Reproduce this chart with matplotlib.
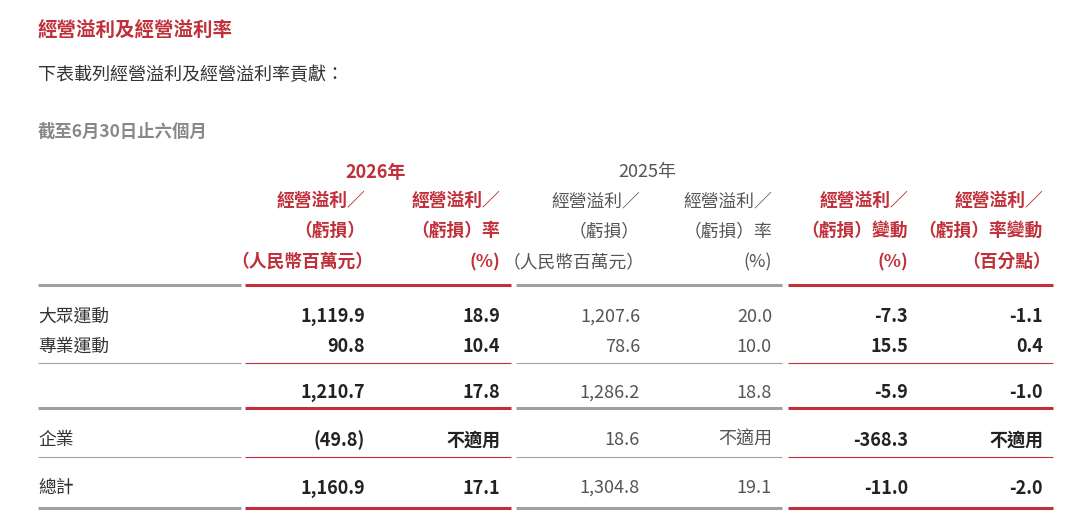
import matplotlib
matplotlib.use("Agg")
import matplotlib.pyplot as plt

plt.rcParams['font.family'] = ['Noto Sans CJK TC', 'DejaVu Sans']

segments = ["大眾運動", "專業運動", "", "企業", "總計"]
op_2026 = ["1,119.9", "90.8", "1,210.7", "(49.8)", "1,160.9"]
margin_2026 = ["18.9", "10.4", "17.8", "不適用", "17.1"]
op_2025 = ["1,207.6", "78.6", "1,286.2", "18.6", "1,304.8"]
margin_2025 = ["20.0", "10.0", "18.8", "不適用", "19.1"]
op_change = ["-7.3", "15.5", "-5.9", "-368.3", "-11.0"]
margin_change = ["-1.1", "0.4", "-1.0", "不適用", "-2.0"]

headers = [
    ["經營溢利／", "（虧損）", "（人民幣百萬元）"],
    ["經營溢利／", "（虧損）率", "(%)"],
    ["經營溢利／", "（虧損）", "（人民幣百萬元）"],
    ["經營溢利／", "（虧損）率", "(%)"],
    ["經營溢利／", "（虧損）變動", "(%)"],
    ["經營溢利／", "（虧損）率變動", "（百分點）"],
]

RED = "#c0303a"
GRAY = "#555555"
LGRAY = "#a0a0a0"
W, H = 1080, 523
fig = plt.figure(figsize=(W/100, H/100), dpi=100)
ax = fig.add_axes([0, 0, 1, 1])
ax.set_xlim(0, W); ax.set_ylim(H, 0); ax.axis("off")

ax.text(38, 31, "經營溢利及經營溢利率", color=RED, fontsize=14, fontweight="bold", va="center")
ax.text(38, 75, "下表載列經營溢利及經營溢利率貢獻：", color="#333333", fontsize=13, va="center")
ax.text(38, 132, "截至6月30日止六個月", color="#888888", fontsize=12.5, fontweight="bold", va="center")
ax.text(376, 172, "2026年", color=RED, fontsize=13, fontweight="bold", va="center", ha="center")
ax.text(647, 172, "2025年", color=GRAY, fontsize=13, va="center", ha="center")

col_x = [365, 500, 640, 772, 908, 1043]
col_color = [RED, RED, GRAY, GRAY, RED, RED]
col_bold = [True, True, False, False, True, True]
hy = [201, 231, 262]
for c, hdr in enumerate(headers):
    for i, t in enumerate(hdr):
        x = col_x[c] + (8 if t.startswith("（") and i == 2 else 0)
        if c == 2 and i == 2:
            x = 645
        ax.text(x, hy[i], t, color=col_color[c], fontsize=12.8,
                fontweight="bold" if col_bold[c] else "normal", ha="right", va="center")

cols = [op_2026, margin_2026, op_2025, margin_2025, op_change, margin_change]
row_y = [317, 347, 393, 440, 488]
for r, y in enumerate(row_y):
    ax.text(38, y, segments[r], color="#333333", fontsize=12.8, va="center")
    for c, vals in enumerate(cols):
        ax.text(col_x[c], y, vals[r], color="#222222" if col_bold[c] else GRAY, fontsize=13,
                fontweight="bold" if col_bold[c] else "normal", ha="right", va="center")

groups = [(38, 241, LGRAY), (245, 511, RED), (516, 782, LGRAY), (788, 1053, RED)]
def hline(y, lw):
    for x0, x1, col in groups:
        ax.plot([x0, x1], [y, y], color=col, lw=lw, solid_capstyle="butt")
for y in [285, 408, 508]:
    hline(y, 2.2)
for y in [363, 457]:
    hline(y, 0.8)

fig.savefig("out.png", dpi=100, facecolor="white")
